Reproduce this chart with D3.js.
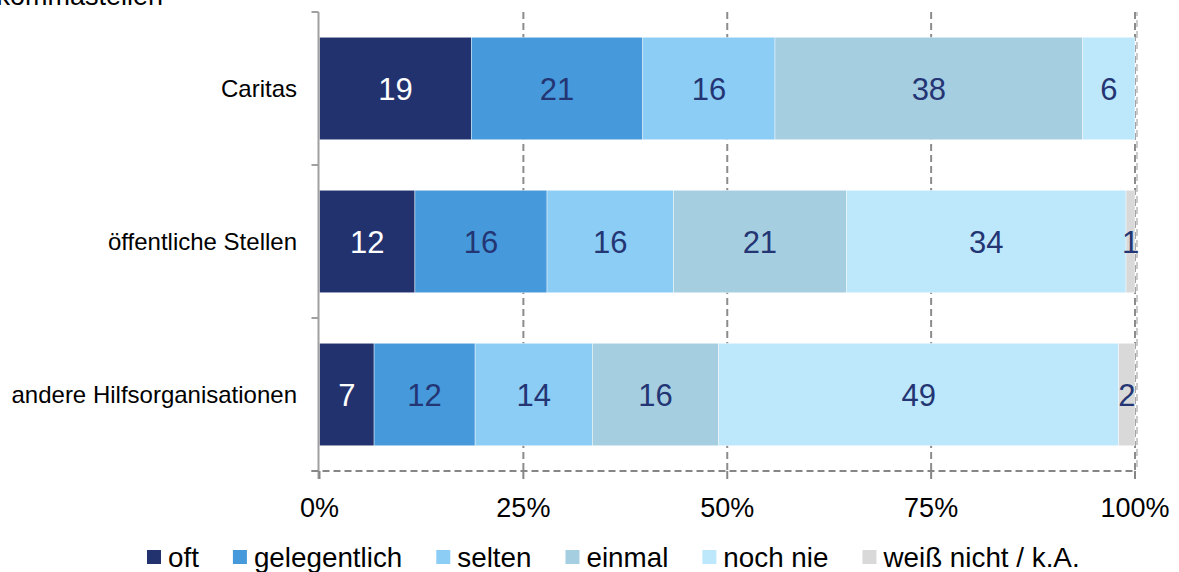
<!DOCTYPE html>
<html>
<head>
<meta charset="utf-8">
<script src="https://cdn.jsdelivr.net/npm/d3@7"></script>
<style>
  html, body { margin: 0; padding: 0; background: #fff; }
  svg { display: block; font-family: "Liberation Sans", Arial, sans-serif; }
</style>
</head>
<body>
<svg id="chart" width="1179" height="572"></svg>
<script>
// ---- data ----
const categories = ["Caritas", "öffentliche Stellen", "andere Hilfsorganisationen"];
const seriesNames = ["oft", "gelegentlich", "selten", "einmal", "noch nie", "weiß nicht / k.A."];
const oft          = [18.6, 11.7, 6.7];
const gelegentlich = [21.0, 16.2, 12.4];
const selten       = [16.2, 15.5, 14.4];
const einmal       = [37.7, 21.2, 15.5];
const nochNie      = [6.4, 34.3, 49.1];
const weissNicht   = [0, 1.1, 2.0];
const tickValues = [0, 0.25, 0.5, 0.75, 1];
const noteText = "Nachkommastellen";

// ---- styles ----
const colors = ["#22326F", "#4699DA", "#8BCDF5", "#A6CEE1", "#BDE8FB", "#D9D9D9"];
const labelColors = ["#ffffff", "#243574", "#243574", "#243574", "#243574", "#243574"];

const seriesValues = [oft, gelegentlich, selten, einmal, nochNie, weissNicht];
const rows = categories.map((c, i) => {
  const r = { cat: c };
  seriesNames.forEach((s, j) => r[s] = seriesValues[j][i]);
  return r;
});
const stacked = d3.stack().keys(seriesNames).offset(d3.stackOffsetExpand)(rows);

const svg = d3.select("#chart");
const pLeft = 319.5, pRight = 1135, pTop = 12, pBottom = 471;

const x = d3.scaleLinear().domain([0, 1]).range([pLeft, pRight]);
const y = d3.scaleBand().domain(categories).range([pTop, pBottom]).paddingInner(0.33).paddingOuter(0.165);

// grid lines
svg.append("g").selectAll("line").data(tickValues.filter(d => d > 0)).join("line")
  .attr("x1", d => x(d)).attr("x2", d => x(d))
  .attr("y1", pTop).attr("y2", pBottom)
  .attr("stroke", "#8c8c8c").attr("stroke-width", 2).attr("stroke-dasharray", "7,4");
// second border line at right edge
svg.append("line")
  .attr("x1", x(1) + 2).attr("x2", x(1) + 2).attr("y1", pTop).attr("y2", pBottom)
  .attr("stroke", "#a8a8a8").attr("stroke-width", 1.2).attr("stroke-dasharray", "7,4")
  .attr("stroke-dashoffset", 3);

// bars
const layer = svg.append("g").selectAll("g").data(stacked).join("g")
  .attr("fill", (d, i) => colors[i]);
layer.selectAll("rect").data(d => d).join("rect")
  .attr("x", d => x(d[0]))
  .attr("width", d => Math.max(0, x(d[1]) - x(d[0])))
  .attr("y", d => y(d.data.cat))
  .attr("height", y.bandwidth())
  .attr("stroke", "#ffffff").attr("stroke-width", 0.6).attr("stroke-opacity", 0.7);

// data labels
svg.append("g").selectAll("g").data(stacked).join("g")
  .each(function (s, i) {
    d3.select(this).selectAll("text").data(s.filter(d => d.data[s.key] > 0)).join("text")
      .attr("x", d => (x(d[0]) + x(d[1])) / 2)
      .attr("y", d => y(d.data.cat) + y.bandwidth() / 2)
      .attr("dy", "0.36em")
      .attr("text-anchor", "middle")
      .attr("font-size", 31)
      .attr("fill", labelColors[i])
      .text(d => Math.round(d.data[s.key]));
  });

// y axis
const yAxis = svg.append("g");
yAxis.append("line").attr("x1", pLeft - 1).attr("x2", pLeft - 1).attr("y1", pTop).attr("y2", pBottom + 8)
  .attr("stroke", "#a0a0a0").attr("stroke-width", 2);
yAxis.selectAll("line.tk").data(d3.range(categories.length + 1).map(i => pTop + i * (pBottom - pTop) / categories.length)).join("line")
  .attr("class", "tk")
  .attr("x1", pLeft - 8).attr("x2", pLeft - 1)
  .attr("y1", d => d).attr("y2", d => d)
  .attr("stroke", "#a0a0a0").attr("stroke-width", 2);
yAxis.selectAll("text").data(categories).join("text")
  .attr("x", 297)
  .attr("y", d => y(d) + y.bandwidth() / 2)
  .attr("dy", "0.36em")
  .attr("text-anchor", "end")
  .attr("font-size", 24)
  .attr("fill", "#000")
  .text(d => d);

// x axis
const xAxis = svg.append("g");
xAxis.append("line").attr("x1", pLeft - 8).attr("x2", pRight + 1).attr("y1", pBottom).attr("y2", pBottom)
  .attr("stroke", "#868686").attr("stroke-width", 2).attr("stroke-dasharray", "7,4");
xAxis.selectAll("line.tk").data(tickValues).join("line")
  .attr("class", "tk")
  .attr("x1", d => x(d)).attr("x2", d => x(d))
  .attr("y1", pBottom).attr("y2", pBottom + 8)
  .attr("stroke", "#868686").attr("stroke-width", 2);
xAxis.selectAll("text").data(tickValues).join("text")
  .attr("x", d => x(d))
  .attr("y", 517)
  .attr("text-anchor", "middle")
  .attr("font-size", 27)
  .attr("fill", "#000")
  .text(d3.format(".0%"));

// note text at top-left (cut off by the top edge, as in the reference)
svg.append("text").attr("x", 163).attr("y", 5).attr("text-anchor", "end")
  .attr("font-size", 27).attr("fill", "#000").text(noteText);

// legend
const legend = svg.append("g");
let lx = 147;
seriesNames.forEach((name, i) => {
  legend.append("rect").attr("x", lx).attr("y", 550).attr("width", 14).attr("height", 14).attr("fill", colors[i]);
  const t = legend.append("text").attr("x", lx + 21).attr("y", 567)
    .attr("font-size", 27.8).attr("fill", "#000").text(name);
  lx = lx + 21 + t.node().getComputedTextLength() + 34;
});
</script>
</body>
</html>
